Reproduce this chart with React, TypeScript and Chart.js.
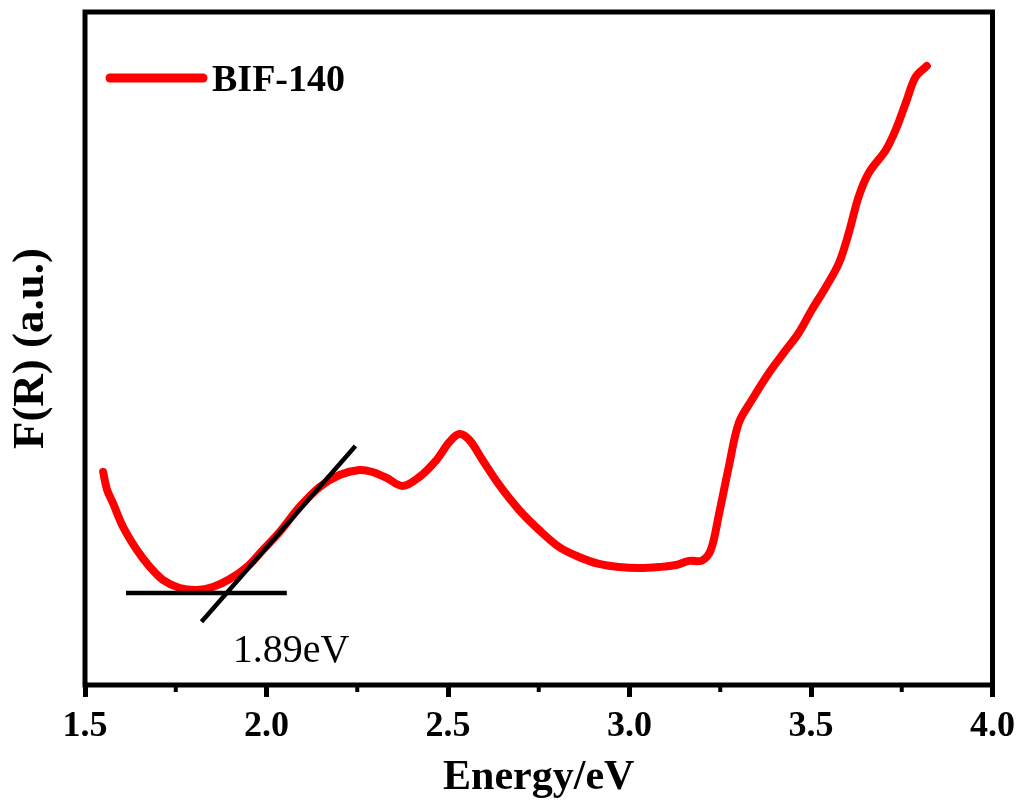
import React, { useEffect, useRef } from 'react';
import { Chart, registerables } from 'chart.js';

Chart.register(...registerables);

// ---- data ----
const seriesName = 'BIF-140';
const energy = [
  1.550, 1.561, 1.577, 1.605, 1.643, 1.679, 1.715, 1.761, 1.808, 1.852,
  1.899, 1.946, 1.990, 2.036, 2.091, 2.146, 2.201, 2.256, 2.292, 2.331,
  2.375, 2.421, 2.468, 2.504, 2.531, 2.559, 2.595, 2.641, 2.696, 2.751,
  2.806, 2.861, 2.916, 2.971, 3.026, 3.081, 3.128, 3.164, 3.200, 3.224,
  3.246, 3.274, 3.301, 3.337, 3.384, 3.431, 3.466, 3.502, 3.541, 3.577,
  3.604, 3.631, 3.659, 3.706, 3.733, 3.761, 3.788, 3.819,
];
const fR = [
  31.65, 28.97, 27.04, 23.48, 20.06, 17.53, 15.60, 14.41, 14.12, 14.56,
  15.75, 17.53, 20.06, 22.73, 26.45, 29.42, 31.20, 31.95, 31.65, 30.76,
  29.57, 30.91, 33.43, 36.11, 37.30, 36.40, 33.43, 29.72, 26.00, 23.03,
  20.51, 19.02, 17.98, 17.53, 17.38, 17.53, 17.83, 18.45, 18.50, 20.06,
  25.26, 32.54, 38.93, 42.35, 46.36, 49.78, 52.30, 55.72, 59.14, 62.70,
  67.16, 72.51, 76.08, 79.49, 82.47, 86.48, 90.34, 91.98,
];
const xTickValues = [1.5, 2.0, 2.5, 3.0, 3.5, 4.0];
const xTickLabels = ['1.5', '2.0', '2.5', '3.0', '3.5', '4.0'];
const xMinorTicks = [1.75, 2.25, 2.75, 3.25, 3.75];
const baselineX = [1.613, 2.056];
const baselineY = [13.67, 13.67];
const tangentX = [1.821, 2.245];
const tangentY = [9.4, 35.5];
const gapLabel = '1.89eV';
const gapLabelX = 1.907;
const gapLabelY = 3.42;
const xTitle = 'Energy/eV';
const yTitle = 'F(R) (a.u.)';

const SERIF = '"Liberation Serif", "Times New Roman", serif';

const overlayPlugin = {
  id: 'overlay',
  afterDraw(chart: any) {
    const { ctx, chartArea: a, scales } = chart;
    const x = scales.x;
    const y = scales.y;
    ctx.save();
    // frame
    ctx.strokeStyle = '#000';
    ctx.lineWidth = 5;
    ctx.strokeRect(a.left, a.top, a.right - a.left, a.bottom - a.top);
    // minor ticks
    ctx.lineWidth = 4;
    xMinorTicks.forEach((v) => {
      const px = x.getPixelForValue(v);
      ctx.beginPath();
      ctx.moveTo(px, a.bottom);
      ctx.lineTo(px, a.bottom + 7);
      ctx.stroke();
    });
    // legend
    const ds = chart.data.datasets.find((d: any) => d.label === seriesName);
    ctx.strokeStyle = ds.borderColor;
    ctx.lineWidth = 9;
    ctx.lineCap = 'round';
    ctx.beginPath();
    ctx.moveTo(a.left + 25, a.top + 66);
    ctx.lineTo(a.left + 118, a.top + 66);
    ctx.stroke();
    ctx.fillStyle = '#000';
    ctx.font = `bold 38px ${SERIF}`;
    ctx.textBaseline = 'alphabetic';
    ctx.textAlign = 'left';
    ctx.fillText(ds.label, a.left + 127, a.top + 79);
    // gap label
    ctx.font = `40px ${SERIF}`;
    ctx.fillText(gapLabel, x.getPixelForValue(gapLabelX), y.getPixelForValue(gapLabelY));
    ctx.restore();
  },
};

export default function App() {
  const ref = useRef<HTMLCanvasElement>(null);
  useEffect(() => {
    document.body.style.margin = '0';
    const canvas = ref.current!;
    const chart = new Chart(canvas, {
      type: 'line',
      data: {
        datasets: [
          {
            label: seriesName,
            data: energy.map((e, i) => ({ x: e, y: fR[i] })),
            borderColor: '#ff0000',
            borderWidth: 8,
            borderCapStyle: 'round',
            borderJoinStyle: 'round',
            pointRadius: 0,
            tension: 0.35,
            fill: false,
            order: 2,
          },
          {
            label: 'baseline',
            data: baselineX.map((e, i) => ({ x: e, y: baselineY[i] })),
            borderColor: '#000',
            borderWidth: 4.5,
            pointRadius: 0,
            tension: 0,
            order: 1,
          },
          {
            label: 'tangent',
            data: tangentX.map((e, i) => ({ x: e, y: tangentY[i] })),
            borderColor: '#000',
            borderWidth: 4.5,
            pointRadius: 0,
            tension: 0,
            order: 1,
          },
        ],
      } as any,
      options: {
        animation: false,
        responsive: false,
        maintainAspectRatio: false,
        layout: { padding: { top: 12, right: 28, left: 0, bottom: 0 } },
        plugins: {
          legend: { display: false },
          tooltip: { enabled: false },
        },
        scales: {
          x: {
            type: 'linear',
            min: 1.5,
            max: 4.0,
            afterBuildTicks: (scale: any) => {
              scale.ticks = xTickValues.map((v) => ({ value: v }));
            },
            afterFit: (scale: any) => {
              scale.height = 118;
            },
            grid: {
              display: true,
              drawOnChartArea: false,
              drawTicks: true,
              tickLength: 12,
              tickWidth: 5,
              tickColor: '#000',
            },
            border: { display: false },
            ticks: {
              autoSkip: false,
              maxRotation: 0,
              padding: 8,
              color: '#000',
              font: { family: SERIF, size: 36, weight: 'bold' },
              callback: (_v: any, i: number) => xTickLabels[i],
            },
            title: {
              display: true,
              text: xTitle,
              color: '#000',
              font: { family: SERIF, size: 42, weight: 'bold' },
              padding: { top: 0, bottom: 0 },
            },
          },
          y: {
            type: 'linear',
            min: 0,
            max: 100,
            afterFit: (scale: any) => {
              scale.width = 85;
            },
            grid: { display: false },
            border: { display: false },
            ticks: { display: false },
            title: {
              display: true,
              text: yTitle,
              color: '#000',
              font: { family: SERIF, size: 45, weight: 'bold' },
              padding: { top: 4, bottom: 0 },
            },
          },
        },
      } as any,
      plugins: [overlayPlugin],
    });
    return () => chart.destroy();
  }, []);
  return (
    <div style={{ position: 'absolute', left: 0, top: 0, width: 1023, height: 803, background: '#fff' }}>
      <canvas ref={ref} width={1023} height={803} />
    </div>
  );
}
